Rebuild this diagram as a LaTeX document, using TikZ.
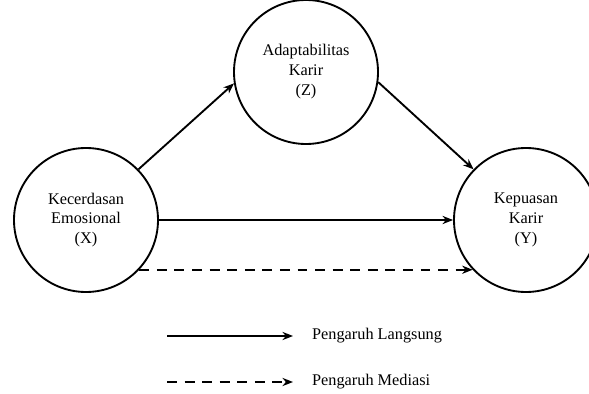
\documentclass[tikz,border=0pt]{standalone}
\usepackage{fontspec}
\setmainfont{Liberation Serif}
\usetikzlibrary{positioning}
\usetikzlibrary{arrows.meta}

\tikzset{
  var/.style={draw,circle,line width=1.6pt,minimum size=4.32cm,inner sep=0pt,align=center,font=\fontsize{13.9}{17}\selectfont},
  link/.style={line width=1.6pt,-{Stealth[length=9pt,width=7pt]}},
  mediasi/.style={link,dash pattern=on 8.5pt off 6.5pt},
  legtext/.style={font=\fontsize{13.9}{17}\selectfont,anchor=west}
}

\begin{document}
\begin{tikzpicture}[x=0.03cm,y=-0.03cm]
\useasboundingbox (0,0) rectangle (589,394);

\node[var] (X) at (86,220) {Kecerdasan\\Emosional\\(X)};
\node[var] (Z) at (306,72) {Adaptabilitas\\Karir\\(Z)};
\node[var] (Y) at (526,220) {Kepuasan\\Karir\\(Y)};

\draw[link] (X.44) -- (Z.189);
\draw[link] (Z.-8) -- (Y.136);
\draw[link] (X) -- (Y);
\draw[mediasi] (X.-43) -- (Y.223);

% legend
\coordinate (La) at (167,336);
\coordinate (Lb) at (293,336);
\coordinate (Ma) at (167,382);
\coordinate (Mb) at (293,382);
\draw[link] (La) -- (Lb);
\draw[mediasi] (Ma) -- (Mb);
\node[legtext,right=0.45cm of Lb] (langsung) {Pengaruh Langsung};
\node[legtext,right=0.45cm of Mb] (mediasi) {Pengaruh Mediasi};
\end{tikzpicture}
\end{document}
